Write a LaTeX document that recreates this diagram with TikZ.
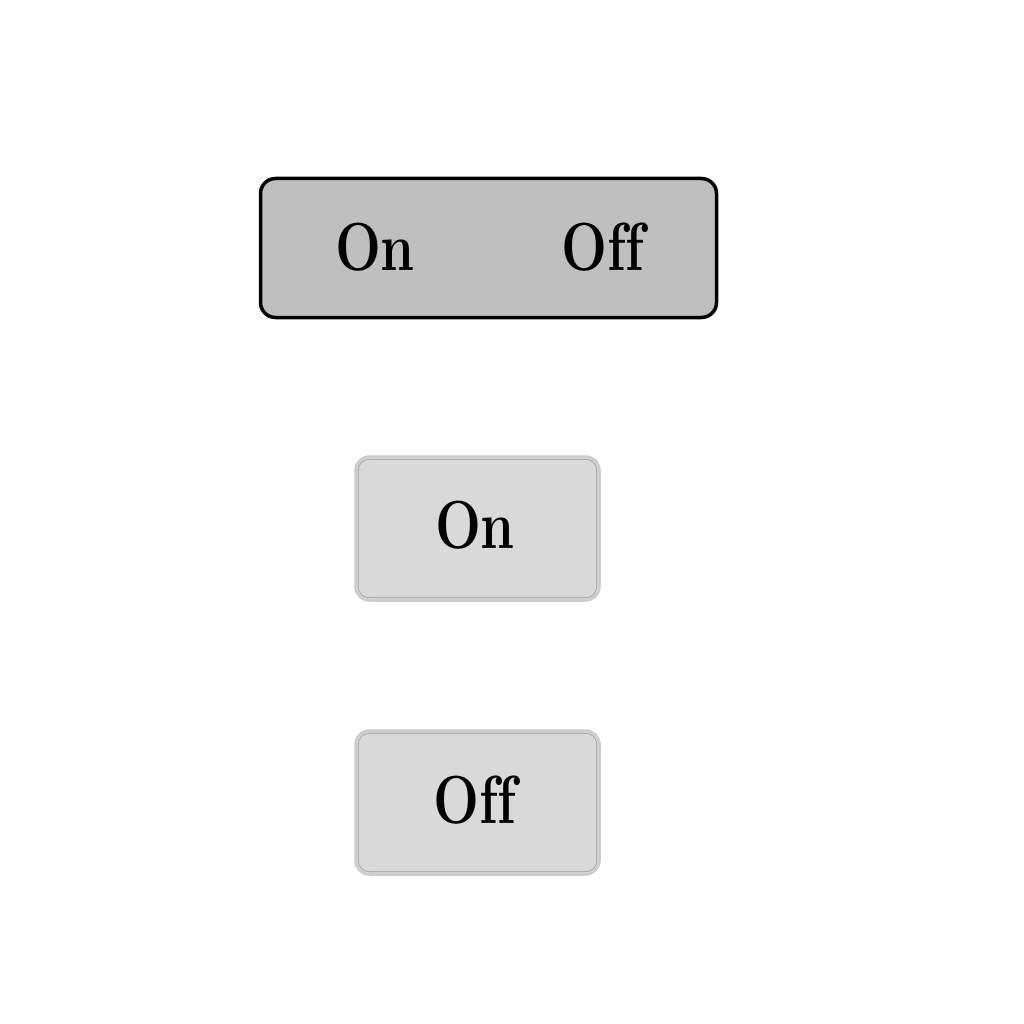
\documentclass[tikz,border=0pt]{standalone}
\newcommand{\lbl}[1]{\scalebox{0.8}[1]{\bfseries #1}}
\tikzset{
  switchbox/.style={draw=black, line width=3.5pt, fill=black!25, rounded corners=15pt,
    minimum width=456pt, minimum height=139pt, inner sep=0pt},
  button/.style={draw=black!20, line width=2.5pt, fill=black!15, rounded corners=14pt,
    minimum width=244pt, minimum height=144pt, inner sep=0pt},
  btnrim/.style={draw=black!40, line width=0.6pt, rounded corners=11pt},
  swlabel/.style={anchor=base, inner sep=0pt, font=\fontsize{68}{80}\selectfont}
}
\begin{document}
\begin{tikzpicture}[x=1pt,y=-1pt]
    \useasboundingbox[fill=white] (0,0) rectangle (1024,1024);
    \node[switchbox] (switch) at (488.5,248) {};
    \node[swlabel] (swon) at (375,270) {\lbl{On}};
    \node[swlabel] (swoff) at (603,270) {\lbl{Of\kern0ptf}};
    \node[button] (onbtn) at (477.5,528.5) {};
    \draw[btnrim] ([shift={(4,4)}]onbtn.north west) rectangle ([shift={(-4,-4)}]onbtn.south east);
    \node[swlabel] (ontext) at (475,548) {\lbl{On}};
    \node[button] (offbtn) at (477.5,802.5) {};
    \draw[btnrim] ([shift={(4,4)}]offbtn.north west) rectangle ([shift={(-4,-4)}]offbtn.south east);
    \node[swlabel] (offtext) at (475,823) {\lbl{Of\kern0ptf}};
\end{tikzpicture}
\end{document}
